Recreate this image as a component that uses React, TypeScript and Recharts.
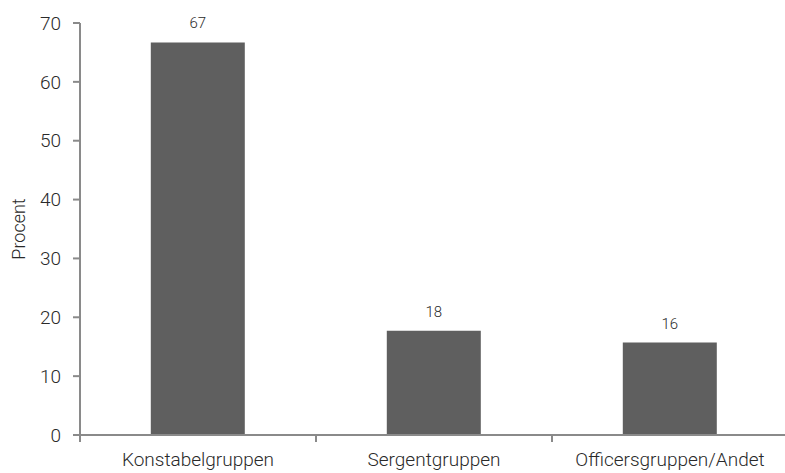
import { BarChart, Bar, XAxis, YAxis, LabelList } from 'recharts'

const categories = ['Konstabelgruppen', 'Sergentgruppen', 'Officersgruppen/Andet']
const values = [66.7, 17.7, 15.7]
const yTicks = [0, 10, 20, 30, 40, 50, 60, 70]

const data = categories.map((name, i) => ({ name, value: values[i] }))

const AXIS = '#8a8a8a'
const TEXT = '#2a2a2a'
const FONT = 'Roboto, "Noto Sans", sans-serif'

// kategori-etiket + tick-streger mellem kategorierne
function CategoryTick({ x, y, payload, index }: any) {
  const half = payload?.offset ?? 0
  const isLast = index === categories.length - 1
  return (
    <g>
      <line x1={x - half} x2={x - half} y1={y - 8} y2={y - 1} stroke={AXIS} strokeWidth={2} />
      {isLast && (
        <line x1={x + half} x2={x + half} y1={y - 8} y2={y - 1} stroke={AXIS} strokeWidth={2} />
      )}
      <text x={x} y={y + 23} textAnchor="middle" fill={TEXT} fontSize={19} fontWeight={300} fontFamily={FONT}>
        {payload.value}
      </text>
    </g>
  )
}

export default function App() {
  return (
    <div style={{ position: 'absolute', left: 0, top: 0, width: 785, height: 473, overflow: 'hidden', background: '#fff' }}>
      <BarChart
        width={790}
        height={473}
        data={data}
        margin={{ top: 23, right: 2, left: 0, bottom: 8 }}
        barCategoryGap="30%"
      >
        <XAxis
          dataKey="name"
          tickLine={false}
          axisLine={{ stroke: AXIS, strokeWidth: 2 }}
          tick={<CategoryTick />}
          interval={0}
          height={30}
        />
        <YAxis
          domain={[0, 70]}
          ticks={yTicks}
          width={80}
          tickSize={7}
          tickMargin={12}
          axisLine={{ stroke: AXIS, strokeWidth: 2 }}
          tickLine={{ stroke: AXIS, strokeWidth: 2 }}
          tick={{ fill: TEXT, fontSize: 19, fontWeight: 300, fontFamily: FONT }}
          label={{
            value: 'Procent',
            angle: -90,
            position: 'insideLeft',
            offset: 19,
            style: { textAnchor: 'middle', fill: TEXT, fontSize: 18, fontWeight: 300, fontFamily: FONT },
          }}
        />
        <Bar dataKey="value" fill="#5f5f5f" isAnimationActive={false}>
          <LabelList
            dataKey="value"
            position="top"
            offset={14}
            formatter={(v: any) => Math.round(Number(v))}
            style={{ fill: TEXT, fontSize: 15, fontWeight: 300, fontFamily: FONT }}
          />
        </Bar>
      </BarChart>
    </div>
  )
}
